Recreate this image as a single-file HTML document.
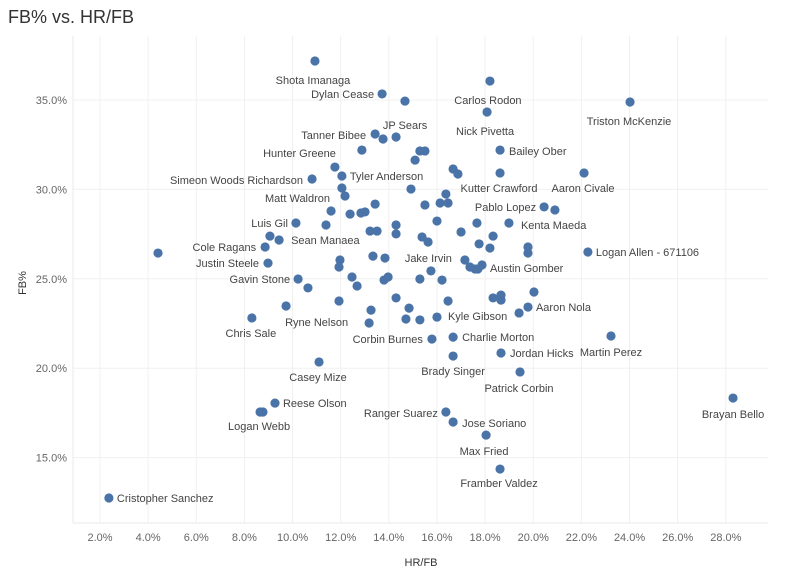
<!DOCTYPE html>
<html><head><meta charset="utf-8"><style>
body{margin:0;background:#fff;font-family:"Liberation Sans",sans-serif;}
svg text{font-family:"Liberation Sans",sans-serif;}
</style></head><body>
<svg id="chart" width="793" height="582" viewBox="0 0 793 582">
<text x="8" y="23" font-size="18" fill="#333">FB% vs. HR/FB</text>
<g id="grid"></g>
<g id="axes"></g>
<g id="marks"></g>
<text transform="translate(26,283) rotate(-90)" text-anchor="middle" font-size="11" fill="#333">FB%</text>
<text x="421" y="566" text-anchor="middle" font-size="11" fill="#333">HR/FB</text>
</svg>
<script>
const hrfb = [10.93,13.72,14.67,18.20,18.08,24.02,13.43,13.76,14.30,12.88,15.29,15.50,15.09,18.62,11.76,12.05,10.81,16.67,16.87,18.62,22.11,12.05,12.18,14.92,16.37,16.13,16.46,15.50,20.45,20.90,11.60,12.39,12.84,13.01,13.43,10.14,11.39,9.06,9.44,8.86,8.98,13.22,13.51,14.30,14.30,15.38,15.63,16.00,17.00,17.66,18.99,18.33,17.75,18.20,19.78,19.78,22.27,4.41,11.97,11.93,13.34,13.84,17.16,17.37,17.58,17.70,17.87,10.23,10.64,12.47,12.68,13.80,13.97,15.29,15.75,16.21,14.30,11.93,9.73,8.31,13.26,13.18,14.84,14.71,15.29,16.00,16.46,15.79,16.67,16.67,11.10,18.33,18.66,18.66,20.03,19.78,19.41,18.66,23.23,19.45,28.30,16.37,16.67,18.04,18.62,9.27,8.65,8.77,2.37];
const fb = [37.18,35.34,34.94,36.06,34.33,34.89,33.10,32.82,32.93,32.20,32.15,32.15,31.64,32.20,31.25,30.75,30.58,31.14,30.86,30.92,30.92,30.08,29.63,30.02,29.74,29.24,29.24,29.13,29.02,28.85,28.79,28.62,28.68,28.74,29.18,28.12,28.01,27.39,27.17,26.78,25.88,27.67,27.67,28.01,27.51,27.34,27.06,28.23,27.62,28.12,28.12,27.39,26.95,26.72,26.78,26.44,26.50,26.44,26.05,25.66,26.27,26.16,26.05,25.66,25.55,25.55,25.77,24.99,24.49,25.10,24.60,24.93,25.10,24.99,25.44,24.93,23.93,23.76,23.48,22.81,23.25,22.53,23.36,22.75,22.70,22.86,23.76,21.63,21.74,20.68,20.35,23.93,24.09,23.81,24.26,23.42,23.09,20.85,21.80,19.79,18.33,17.55,16.99,16.26,14.36,18.05,17.55,17.55,12.74];
const names = new Array(hrfb.length).fill("");
names[0]="Shota Imanaga"; names[1]="Dylan Cease"; names[3]="Carlos Rodon"; names[4]="Nick Pivetta";
names[5]="Triston McKenzie"; names[6]="Tanner Bibee"; names[8]="JP Sears"; names[9]="Hunter Greene";
names[13]="Bailey Ober"; names[15]="Tyler Anderson"; names[16]="Simeon Woods Richardson";
names[19]="Kutter Crawford"; names[20]="Aaron Civale"; names[22]="Matt Waldron"; names[28]="Pablo Lopez";
names[35]="Luis Gil"; names[38]="Sean Manaea"; names[39]="Cole Ragans"; names[40]="Justin Steele";
names[50]="Kenta Maeda"; names[56]="Logan Allen - 671106"; names[62]="Jake Irvin"; names[66]="Austin Gomber";
names[67]="Gavin Stone"; names[79]="Chris Sale"; names[81]="Ryne Nelson"; names[85]="Kyle Gibson";
names[87]="Corbin Burnes"; names[88]="Charlie Morton"; names[89]="Brady Singer"; names[90]="Casey Mize";
names[95]="Aaron Nola"; names[97]="Jordan Hicks"; names[98]="Martin Perez"; names[99]="Patrick Corbin";
names[100]="Brayan Bello"; names[101]="Ranger Suarez"; names[102]="Jose Soriano"; names[103]="Max Fried";
names[104]="Framber Valdez"; names[105]="Reese Olson"; names[106]="Logan Webb"; names[108]="Cristopher Sanchez";
const xTicks = [2,4,6,8,10,12,14,16,18,20,22,24,26,28];
const yTicks = [15,20,25,30,35];

// label placement (style, not data): [anchor, dx, dy]
const labelPos = {
"Shota Imanaga":["middle",-2,23],"Dylan Cease":["end",-8,4],"Carlos Rodon":["middle",-2,23],"Nick Pivetta":["middle",-2,23],
"Triston McKenzie":["middle",-1,23],"JP Sears":["middle",9,-8],"Tanner Bibee":["end",-9,5],"Hunter Greene":["end",-26,7],
"Simeon Woods Richardson":["end",-9,5],"Tyler Anderson":["start",8,4],"Matt Waldron":["end",-15,6],"Luis Gil":["end",-8,4],
"Sean Manaea":["start",12,4],"Cole Ragans":["end",-9,4],"Justin Steele":["end",-9,4],"Gavin Stone":["end",-8,4],
"Jake Irvin":["end",-13,2],"Austin Gomber":["start",8,7],"Kutter Crawford":["middle",-1,19],"Aaron Civale":["middle",-1,19],
"Bailey Ober":["start",9,5],"Pablo Lopez":["end",-8,4],"Kenta Maeda":["start",12,6],"Logan Allen - 671106":["start",8,4],
"Ryne Nelson":["end",-21,3],"Chris Sale":["middle",-1,19],"Corbin Burnes":["end",-9,4],"Kyle Gibson":["start",11,3],
"Charlie Morton":["start",9,4],"Aaron Nola":["start",8,4],"Brady Singer":["middle",0,19],"Jordan Hicks":["start",9,4],
"Martin Perez":["middle",0,20],"Patrick Corbin":["middle",-1,20],"Casey Mize":["middle",-1,19],"Reese Olson":["start",8,4],
"Logan Webb":["middle",-1,18],"Ranger Suarez":["end",-8,5],"Jose Soriano":["start",9,5],"Max Fried":["middle",-2,20],
"Framber Valdez":["middle",-1,18],"Brayan Bello":["middle",0,20],"Cristopher Sanchez":["start",8,4]};

const NS="http://www.w3.org/2000/svg";
const L=73,R=768,T=36,B=523;
function xs(v){return 100+(v-2)*24.07;}
function ys(v){return 100+(35-v)*17.88;}
function mk(tag,attrs,parent){const e=document.createElementNS(NS,tag);for(const k in attrs)e.setAttribute(k,attrs[k]);parent.appendChild(e);return e;}
const grid=document.getElementById('grid'),axes=document.getElementById('axes'),marks=document.getElementById('marks');
xTicks.forEach(t=>{
  const g=mk('line',{x1:xs(t),x2:xs(t),y1:T,y2:B,stroke:'#f0f0f0','stroke-width':1},grid);
  
  
  const tx=mk('text',{x:xs(t),y:541,'text-anchor':'middle','font-size':11,fill:'#666'},axes);
  tx.textContent=t.toFixed(1)+'%';
  
  
});
yTicks.forEach(t=>{
  const g=mk('line',{x1:L,x2:R,y1:ys(t),y2:ys(t),stroke:'#f0f0f0','stroke-width':1},grid);
  
  
  const tx=mk('text',{x:67,y:ys(t)+4,'text-anchor':'end','font-size':11,fill:'#666'},axes);
  tx.textContent=t.toFixed(1)+'%';
  
  
});
const ax=mk('line',{x1:L,x2:L,y1:T,y2:B,stroke:'#e8e8e8'},axes);


const bx=mk('line',{x1:L,x2:R,y1:B,y2:B,stroke:'#e8e8e8'},axes);


hrfb.forEach((v,i)=>{
  const cx=xs(v),cy=ys(fb[i]);
  const c=mk('circle',{cx:cx,cy:cy,r:4.6,fill:'#4a74a8'},marks);
  
  
  const n=names[i];
  if(n){
    const p=labelPos[n]||["start",8,4];
    const t=mk('text',{x:cx+p[1],y:cy+p[2],'text-anchor':p[0],'font-size':11,fill:'#444'},marks);
    t.textContent=n;
    
    
  }
});
</script>
</body></html>
